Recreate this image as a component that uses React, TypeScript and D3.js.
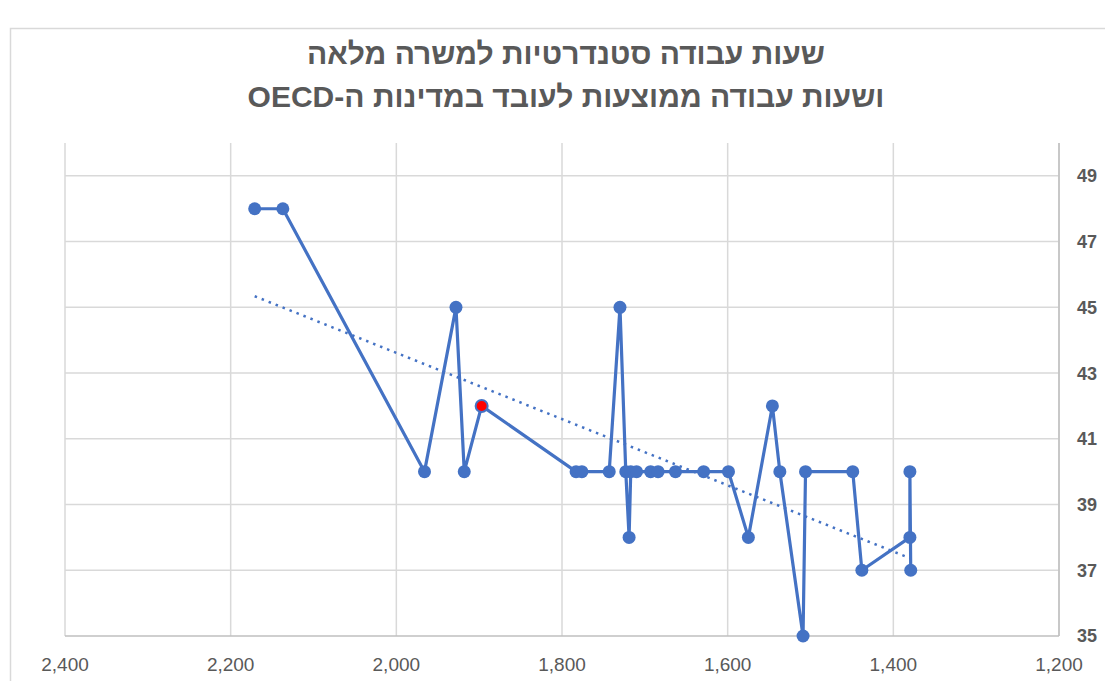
import React from 'react';
import * as d3 from 'd3';

// average annual hours worked per employee (x) vs. standard full-time weekly hours (y)
const annualHours = [2171, 2137, 1966, 1928, 1918, 1897, 1783, 1776, 1743, 1730, 1723, 1719, 1717, 1710, 1693, 1684, 1663, 1629, 1599, 1575, 1546, 1537, 1509, 1506, 1449, 1438, 1380, 1380, 1379];
const weeklyHours = [48, 48, 40, 45, 40, 42, 40, 40, 40, 45, 40, 38, 40, 40, 40, 40, 40, 40, 40, 38, 42, 40, 35, 40, 40, 37, 38, 40, 37];
const highlightIndex = 5;

const xTicks = [2400, 2200, 2000, 1800, 1600, 1400, 1200];
const yTicks = [35, 37, 39, 41, 43, 45, 47, 49];
const titleLines = ['שעות עבודה סטנדרטיות למשרה מלאה', 'ושעות עבודה ממוצעות לעובד במדינות ה-OECD'];

const W = 1105;
const H = 681;
const margin = { top: 143, right: 46, bottom: 45, left: 65 };
const blue = '#4472C4';
const textColor = '#595959';
const font = '"Liberation Sans", "DejaVu Sans", sans-serif';

const App = () => {
    const x = d3.scaleLinear()
        .domain([2400, 1200])
        .range([margin.left, W - margin.right]);
    const y = d3.scaleLinear()
        .domain([35, 50])
        .range([H - margin.bottom, margin.top]);

    const points = annualHours.map((h, i) => ({ h, w: weeklyHours[i] }));
    const line = d3.line<{ h: number; w: number }>()
        .x(d => x(d.h))
        .y(d => y(d.w));

    // linear trend line (least squares), over the data's x range
    const mx = d3.mean(annualHours)!;
    const my = d3.mean(weeklyHours)!;
    const slope = d3.sum(points, d => (d.h - mx) * (d.w - my)) / d3.sum(points, d => (d.h - mx) ** 2);
    const icpt = my - slope * mx;
    const [xMin, xMax] = d3.extent(annualHours) as [number, number];
    const trend = [xMax, xMin].map(h => ({ h, w: icpt + slope * h }));

    const fmt = d3.format(',');

    return (
        <svg width={W} height={H} style={{ position: 'absolute', left: 0, top: 0, background: '#fff' }}>
            <rect x={10.5} y={28.5} width={W} height={H} fill="#fff" stroke="#d9d9d9" strokeWidth={1.5} />

            {titleLines.map((t, i) => (
                <text key={i} x={566} y={64 + i * 43} textAnchor="middle" direction="rtl"
                    fill={textColor} fontFamily={font} fontWeight="bold" fontSize={30}>
                    {t}
                </text>
            ))}

            {/* gridlines */}
            <g stroke="#d9d9d9" strokeWidth={1.5}>
                {xTicks.map(t => (
                    <line key={t} x1={x(t)} x2={x(t)} y1={margin.top} y2={H - margin.bottom} />
                ))}
                {yTicks.filter(t => t > 35).map(t => (
                    <line key={t} x1={margin.left} x2={W - margin.right} y1={y(t)} y2={y(t)} />
                ))}
            </g>
            <line x1={margin.left} x2={W - margin.right} y1={y(35)} y2={y(35)} stroke="#bfbfbf" strokeWidth={1.5} />
            <line x1={W - margin.right} x2={W - margin.right} y1={margin.top} y2={y(35)} stroke="#bfbfbf" strokeWidth={1.5} />

            {xTicks.map(t => (
                <text key={t} x={x(t)} y={671} textAnchor="middle" fill={textColor}
                    fontFamily={font} fontSize={19}>
                    {fmt(t)}
                </text>
            ))}
            {yTicks.map(t => (
                <text key={t} x={1077} y={y(t)} dy="0.36em" fill={textColor}
                    fontFamily={font} fontWeight="bold" fontSize={18}>
                    {t}
                </text>
            ))}

            <path d={line(trend) ?? ''} fill="none" stroke={blue} strokeWidth={2.5}
                strokeDasharray="2.5 5" />
            <path d={line(points) ?? ''} fill="none" stroke={blue} strokeWidth={3.2} strokeLinejoin="round" />
            {points.map((d, i) => (
                <circle key={i} cx={x(d.h)} cy={y(d.w)} r={i === highlightIndex ? 6 : 6.5}
                    fill={i === highlightIndex ? '#ff0000' : blue}
                    stroke={blue} strokeWidth={i === highlightIndex ? 2 : 0} />
            ))}
        </svg>
    );
};

export default App;
